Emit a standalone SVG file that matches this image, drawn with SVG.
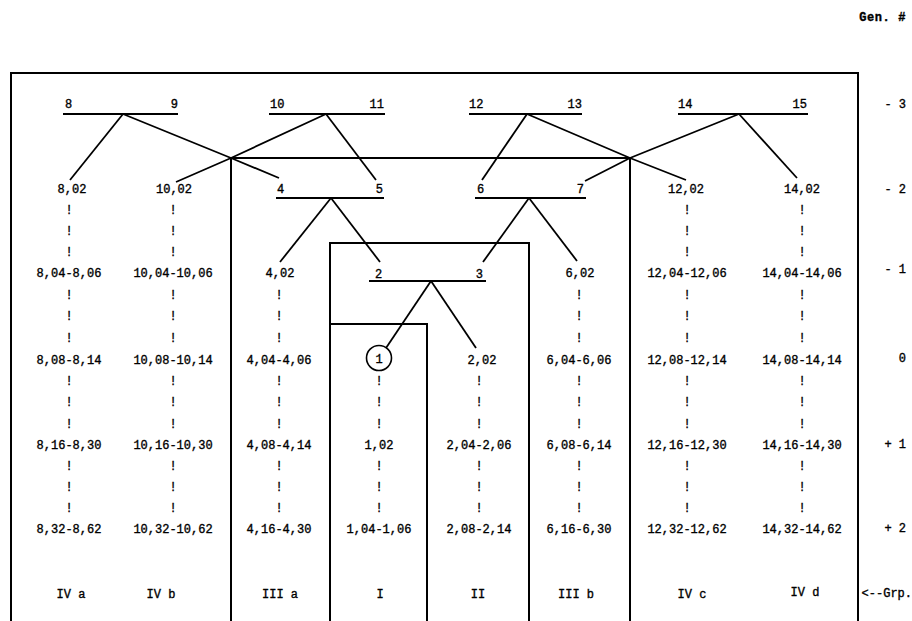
<svg xmlns="http://www.w3.org/2000/svg" width="912" height="621" viewBox="0 0 912 621">
<style>
text{font-family:"Liberation Mono","DejaVu Sans Mono",monospace;font-size:12px;fill:#000;stroke:#000;stroke-width:0.35}
.c{text-anchor:middle}
.e{text-anchor:end}
.ln{stroke:#000;stroke-width:1.8;fill:none;stroke-linecap:butt;stroke-linejoin:miter}
.bx{stroke:#000;stroke-width:2;fill:none}
</style>
<rect width="912" height="621" fill="#fff"/>
<text id="genhdr" x="906" y="21" class="e" style="font-size:12px;font-weight:bold;letter-spacing:0.6px">Gen. #</text>
<g id="frames">
<polyline class="bx" points="11,630 11,73 858,73 858,630"/>
<polyline class="bx" points="231,630 231,158 630,158 630,630"/>
<polyline class="bx" points="330,630 330,243 529,243 529,630"/>
<polyline class="bx" points="330,324 427,324 427,630"/>
</g>
<g id="connectors" class="ln">
<line x1="63" y1="114" x2="178" y2="114"/>
<line x1="269" y1="114" x2="385" y2="114"/>
<line x1="469" y1="114" x2="582" y2="114"/>
<line x1="678" y1="114" x2="808" y2="114"/>
<line x1="276" y1="198" x2="384" y2="198"/>
<line x1="475" y1="198" x2="586" y2="198"/>
<line x1="369" y1="281" x2="486" y2="281"/>
<polyline points="123,114 231,158 279,178"/>
<polyline points="326,114 231,158 176,182"/>
<line x1="123" y1="114" x2="70" y2="180"/>
<line x1="326" y1="114" x2="376" y2="180"/>
<polyline points="527,114 630,158 686,180"/>
<polyline points="739,114 630,158 585,181"/>
<line x1="527" y1="114" x2="482" y2="180"/>
<line x1="739" y1="114" x2="797" y2="178"/>
<line x1="331" y1="198" x2="280" y2="262"/>
<line x1="331" y1="198" x2="380" y2="262"/>
<line x1="529" y1="198" x2="483" y2="262"/>
<line x1="529" y1="198" x2="577" y2="261"/>
<line x1="431" y1="281" x2="386" y2="348"/>
<line x1="431" y1="281" x2="476" y2="348"/>
</g>
<g id="pair-8-9"><text x="65" y="108">8</text><text x="178" y="108" class="e">9</text></g>
<g id="pair-10-11"><text x="270" y="108">10</text><text x="384" y="108" class="e">11</text></g>
<g id="pair-12-13"><text x="469" y="108">12</text><text x="582" y="108" class="e">13</text></g>
<g id="pair-14-15"><text x="678" y="108">14</text><text x="807" y="108" class="e">15</text></g>
<g id="pair-4-5"><text x="277" y="193">4</text><text x="383" y="193" class="e">5</text></g>
<g id="pair-6-7"><text x="477" y="193">6</text><text x="584" y="193" class="e">7</text></g>
<g id="pair-2-3"><text x="375" y="278">2</text><text x="483" y="278" class="e">3</text></g>
<g id="col-IVa" class="c">
<text x="72" y="193">8,02</text>
<text x="69" y="214">!</text><text x="69" y="235">!</text><text x="69" y="256">!</text>
<text x="69" y="277">8,04-8,06</text>
<text x="69" y="299">!</text><text x="69" y="320">!</text><text x="69" y="342">!</text>
<text x="69" y="364">8,08-8,14</text>
<text x="69" y="385">!</text><text x="69" y="406">!</text><text x="69" y="428">!</text>
<text x="69" y="449">8,16-8,30</text>
<text x="69" y="470">!</text><text x="69" y="491">!</text><text x="69" y="512">!</text>
<text x="69" y="533">8,32-8,62</text>
<text x="71" y="598">IV a</text>
</g>
<g id="col-IVb" class="c">
<text x="174" y="193">10,02</text>
<text x="173" y="214">!</text><text x="173" y="235">!</text><text x="173" y="256">!</text>
<text x="173" y="277">10,04-10,06</text>
<text x="173" y="299">!</text><text x="173" y="320">!</text><text x="173" y="342">!</text>
<text x="173" y="364">10,08-10,14</text>
<text x="173" y="385">!</text><text x="173" y="406">!</text><text x="173" y="428">!</text>
<text x="173" y="449">10,16-10,30</text>
<text x="173" y="470">!</text><text x="173" y="491">!</text><text x="173" y="512">!</text>
<text x="173" y="533">10,32-10,62</text>
<text x="161" y="598">IV b</text>
</g>
<g id="col-IIIa" class="c">
<text x="280" y="277">4,02</text>
<text x="279" y="299">!</text><text x="279" y="320">!</text><text x="279" y="342">!</text>
<text x="279" y="364">4,04-4,06</text>
<text x="279" y="385">!</text><text x="279" y="406">!</text><text x="279" y="428">!</text>
<text x="279" y="449">4,08-4,14</text>
<text x="279" y="470">!</text><text x="279" y="491">!</text><text x="279" y="512">!</text>
<text x="279" y="533">4,16-4,30</text>
<text x="280" y="598">III a</text>
</g>
<g id="col-I" class="c">
<circle cx="379" cy="358" r="12.5" fill="none" stroke="#000" stroke-width="1.6"/>
<text x="379" y="362.5">1</text>
<text x="379" y="385">!</text><text x="379" y="406">!</text><text x="379" y="428">!</text>
<text x="379" y="449">1,02</text>
<text x="379" y="470">!</text><text x="379" y="491">!</text><text x="379" y="512">!</text>
<text x="379" y="533">1,04-1,06</text>
<text x="380" y="598">I</text>
</g>
<g id="col-II" class="c">
<text x="482" y="364">2,02</text>
<text x="479" y="385">!</text><text x="479" y="406">!</text><text x="479" y="428">!</text>
<text x="479" y="449">2,04-2,06</text>
<text x="479" y="470">!</text><text x="479" y="491">!</text><text x="479" y="512">!</text>
<text x="479" y="533">2,08-2,14</text>
<text x="478" y="598">II</text>
</g>
<g id="col-IIIb" class="c">
<text x="580" y="277">6,02</text>
<text x="579" y="299">!</text><text x="579" y="320">!</text><text x="579" y="342">!</text>
<text x="579" y="364">6,04-6,06</text>
<text x="579" y="385">!</text><text x="579" y="406">!</text><text x="579" y="428">!</text>
<text x="579" y="449">6,08-6,14</text>
<text x="579" y="470">!</text><text x="579" y="491">!</text><text x="579" y="512">!</text>
<text x="579" y="533">6,16-6,30</text>
<text x="576" y="598">III b</text>
</g>
<g id="col-IVc" class="c">
<text x="686" y="193">12,02</text>
<text x="687" y="214">!</text><text x="687" y="235">!</text><text x="687" y="256">!</text>
<text x="687" y="277">12,04-12,06</text>
<text x="687" y="299">!</text><text x="687" y="320">!</text><text x="687" y="342">!</text>
<text x="687" y="364">12,08-12,14</text>
<text x="687" y="385">!</text><text x="687" y="406">!</text><text x="687" y="428">!</text>
<text x="687" y="449">12,16-12,30</text>
<text x="687" y="470">!</text><text x="687" y="491">!</text><text x="687" y="512">!</text>
<text x="687" y="533">12,32-12,62</text>
<text x="692" y="598">IV c</text>
</g>
<g id="col-IVd" class="c">
<text x="802" y="193">14,02</text>
<text x="802" y="214">!</text><text x="802" y="235">!</text><text x="802" y="256">!</text>
<text x="802" y="277">14,04-14,06</text>
<text x="802" y="299">!</text><text x="802" y="320">!</text><text x="802" y="342">!</text>
<text x="802" y="364">14,08-14,14</text>
<text x="802" y="385">!</text><text x="802" y="406">!</text><text x="802" y="428">!</text>
<text x="802" y="449">14,16-14,30</text>
<text x="802" y="470">!</text><text x="802" y="491">!</text><text x="802" y="512">!</text>
<text x="802" y="533">14,32-14,62</text>
<text x="805" y="596">IV d</text>
</g>
<g id="gen-axis" class="e">
<text x="906" y="108">- 3</text>
<text x="906" y="193">- 2</text>
<text x="906" y="273">- 1</text>
<text x="906" y="362">0</text>
<text x="906" y="448">+ 1</text>
<text x="906" y="532">+ 2</text>
<text x="912" y="597">&lt;--Grp.</text>
</g>
</svg>
